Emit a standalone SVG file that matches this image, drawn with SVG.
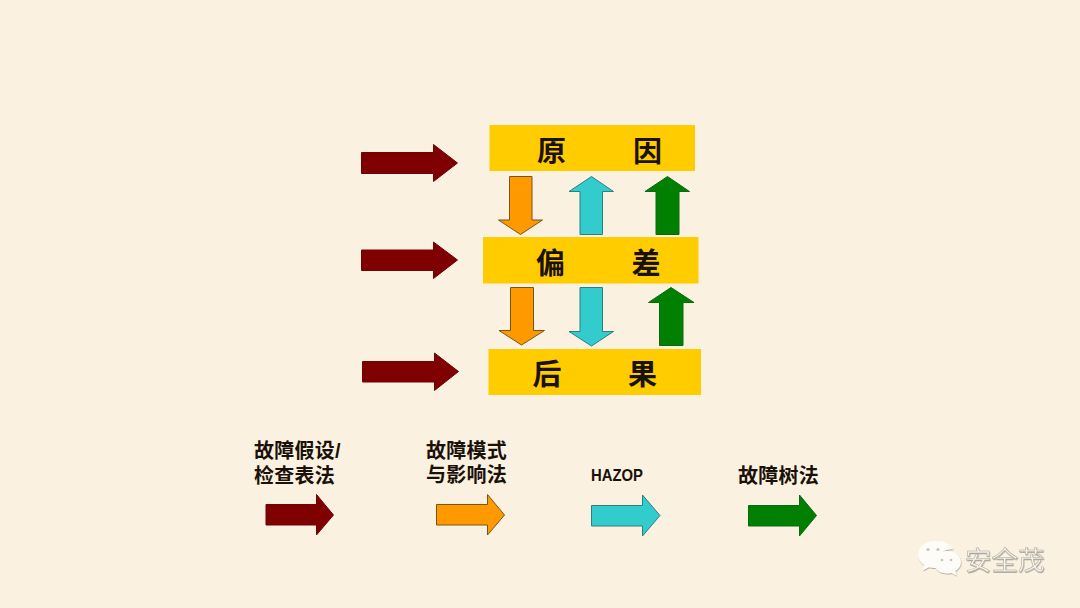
<svg xmlns="http://www.w3.org/2000/svg" width="1080" height="608" viewBox="0 0 1080 608">
<style>
.bar{fill:#ffcc00}
.t{font-family:"Noto Sans CJK SC","Liberation Sans",sans-serif;font-weight:700;fill:#1a1208;text-anchor:middle}
.big{font-size:29px}
.leg{font-family:"Liberation Sans","Noto Sans CJK SC",sans-serif;font-size:20px;text-anchor:start;letter-spacing:.25px}
.lat{font-size:17px;letter-spacing:0}
.red{fill:#7f0000;stroke:#6e0505;stroke-width:1}
.or{fill:#ff9900;stroke:#7a5518;stroke-width:1}
.cy{fill:#33cccc;stroke:#2d7f80;stroke-width:1}
.gr{fill:#007f00;stroke:#0a6a14;stroke-width:1}
.wm{font-family:"Noto Sans CJK SC","Liberation Sans",sans-serif;font-size:26.500px;font-weight:400;fill:#f8f4ea;stroke:#a9a69d;stroke-width:.5}
</style>
<defs>
<filter id="s" x="-20%" y="-20%" width="140%" height="140%"><feDropShadow dx="0.5" dy="1" stdDeviation="0.7" flood-color="#6d6a62" flood-opacity=".55"/></filter>
</defs>
<rect width="1080" height="608" fill="#faf1e1"/>
<g id="node-cause"><rect class="bar" x="489.500" y="125" width="205.500" height="46"/><text class="t big" x="551.500" y="162">原</text><text class="t big" x="647.500" y="162">因</text></g>
<g id="node-deviation"><rect class="bar" x="483" y="237" width="215.500" height="46.500"/><text class="t big" x="550.500" y="273.500">偏</text><text class="t big" x="646" y="273.500">差</text></g>
<g id="node-consequence"><rect class="bar" x="488.500" y="349" width="212.500" height="46"/><text class="t big" x="547" y="385">后</text><text class="t big" x="642.500" y="385">果</text></g>
<g id="connectors">
<polygon class="red" points="361.500,152.500 433.500,152.500 433.500,144.500 457.500,163 433.500,181.500 433.500,173.500 361.500,173.500"/>
<polygon class="red" points="361.500,250 433.500,250 433.500,242 457.500,260 433.500,278.500 433.500,270.500 361.500,270.500"/>
<polygon class="red" points="362.500,361.500 434.500,361.500 434.500,353 458.500,371.500 434.500,390.500 434.500,382 362.500,382"/>
<polygon class="or" points="509.500,176.500 532,176.500 532,220 542.500,220 520.500,234.500 498.500,220 509.500,220"/>
<polygon class="cy" points="591.500,176.500 613.500,191.500 602.500,191.500 602.500,234.500 580,234.500 580,191.500 569,191.500"/>
<polygon class="gr" points="667.500,176.500 689.500,191.500 679,191.500 679,234.500 656,234.500 656,191.500 645,191.500"/>
<polygon class="or" points="510.500,287.500 533.500,287.500 533.500,330.500 544.500,330.500 521.500,345 499,330.500 510.500,330.500"/>
<polygon class="cy" points="580,287.500 602.500,287.500 602.500,331.500 613.500,331.500 591.500,346 569,331.500 580,331.500"/>
<polygon class="gr" points="671,287.500 694,302.500 683,302.500 683,345.500 659.500,345.500 659.500,302.500 648.500,302.500"/>
</g>
<g id="legend-checklist"><text class="t leg" x="254" y="458">故障假设/</text><text class="t leg" x="254" y="483">检查表法</text>
<polygon class="red" points="266,504.500 316.500,504.500 316.500,494.500 333.500,515 316.500,535 316.500,525 266,525"/></g>
<g id="legend-fmea"><text class="t leg" x="426" y="458">故障模式</text><text class="t leg" x="426" y="482">与影响法</text>
<polygon class="or" points="436.500,504.500 487.500,504.500 487.500,494.500 504.500,515 487.500,535 487.500,525 436.500,525"/></g>
<g id="legend-hazop"><text class="t leg lat" x="591" y="481" textLength="52" lengthAdjust="spacingAndGlyphs">HAZOP</text>
<polygon class="cy" points="591.500,505.500 642.500,505.500 642.500,495 660,515.500 642.500,536 642.500,526 591.500,526"/></g>
<g id="legend-fta"><text class="t leg" x="738" y="483">故障树法</text>
<polygon class="gr" points="748.500,505.500 799.500,505.500 799.500,495 816.500,515.500 799.500,536 799.500,526 748.500,526"/></g>
<g id="watermark" filter="url(#s)">
<path d="M934.500 541c-9 0-16.500 6-16.500 13.500 0 4.300 2.500 8 6.300 10.500l-1.600 5.500 6.300-3.200c1.900.5 3.600.7 5.500.7 1 0 1.800 0 2.700-.2-.6-1.600-.9-3.300-.9-5 0-7.500 6.900-13.500 15.500-13.500l1.300.1c-1.900-5-8.700-8.400-18.100-8.400z" fill="#fdfcf8"/>
<path d="M947 551c-7.500 0-13.500 5-13.500 11.300s6 11.300 13.500 11.300c1.600 0 3.100-.2 4.500-.7l5.200 2.800-1.400-4.700c3.400-2.100 5.700-5.200 5.700-8.700 0-6.300-6-11.300-13.500-11.300z" fill="#fdfcf8"/>
<g fill="#c9c5ba"><circle cx="928" cy="549.500" r="1.600"/><circle cx="938" cy="549.500" r="1.600"/><circle cx="942" cy="560" r="1.300"/><circle cx="951" cy="560" r="1.300"/></g>
<text class="wm" x="965" y="570">安全茂</text>
</g>
</svg>
